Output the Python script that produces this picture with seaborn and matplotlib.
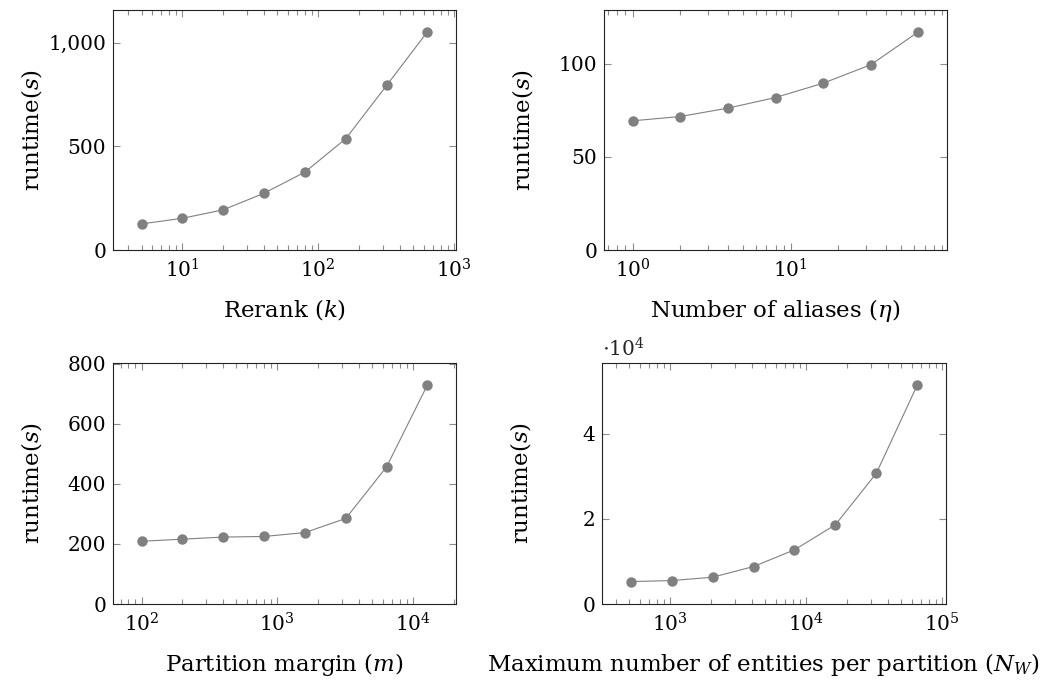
import numpy as np
import pandas as pd
import matplotlib
matplotlib.use("Agg")
import matplotlib.pyplot as plt
import matplotlib.ticker as mticker
import seaborn as sns

# ==============================
# DATA
# ==============================
rerank_k = [5, 10, 20, 40, 80, 160, 320, 640]
rerank_runtime = [126, 153, 194, 274, 376, 537, 794, 1053]

aliases_eta = [1, 2, 4, 8, 16, 32, 64]
aliases_runtime = [69.4, 71.7, 76.2, 81.9, 89.6, 99.5, 117.2]

margin_m = [100, 200, 400, 800, 1600, 3200, 6400, 12800]
margin_runtime = [209, 216, 223, 225, 238, 285, 457, 730]

entities_nw = [512, 1024, 2048, 4096, 8192, 16384, 32768, 65536]
entities_runtime = [5270, 5500, 6290, 8800, 12730, 18620, 30730, 51470]

# ==============================
# STYLE
# ==============================
sns.set_style("ticks")
plt.rcParams["font.family"] = ["DejaVu Serif"]
plt.rcParams["mathtext.fontset"] = "dejavuserif"
TICK_FS = 14.5
LABEL_FS = 16.5

W, H = 1054, 680
fig = plt.figure(figsize=(W / 100, H / 100), dpi=100)


def px_axes(left, top, right, bottom):
    return fig.add_axes([left / W, 1 - bottom / H, (right - left) / W, (bottom - top) / H])


panels = [
    dict(x=rerank_k, y=rerank_runtime, xlabel=r"Rerank ($k$)",
         yticks=[0, 500, 1000], box=(113, 10, 456, 250), scale=1, xlab_x=0.5),
    dict(x=aliases_eta, y=aliases_runtime, xlabel=r"Number of aliases ($\eta$)",
         yticks=[0, 50, 100], box=(604, 10, 947, 250), scale=1, xlab_x=0.5),
    dict(x=margin_m, y=margin_runtime, xlabel=r"Partition margin ($m$)",
         yticks=[0, 200, 400, 600, 800], box=(113, 363, 456, 604), scale=1, xlab_x=0.5),
    dict(x=entities_nw, y=entities_runtime,
         xlabel=r"Maximum number of entities per partition ($N_W$)",
         yticks=[0, 20000, 40000], box=(602, 363, 946, 604), scale=1e4, xlab_x=0.47),
]

for p in panels:
    ax = px_axes(*p["box"])
    df = pd.DataFrame({"x": p["x"], "y": p["y"]})
    sns.lineplot(data=df, x="x", y="y", ax=ax, color="#808080", linewidth=0.8,
                 marker="o", markersize=7.5, markeredgewidth=0, markerfacecolor="#808080")
    ax.set_xscale("log")

    # pgfplots-like 10% enlargement of the limits
    lx = np.log10([min(p["x"]), max(p["x"])])
    d = 0.1 * (lx[1] - lx[0])
    ax.set_xlim(10 ** (lx[0] - d), 10 ** (lx[1] + d))
    ax.set_ylim(0, max(p["y"]) * 1.1)

    ax.set_yticks(p["yticks"])
    s = p["scale"]
    ax.yaxis.set_major_formatter(mticker.FuncFormatter(lambda v, pos, s=s: f"{int(round(v / s)):,}"))
    ax.xaxis.set_major_locator(mticker.LogLocator(base=10))
    ax.xaxis.set_minor_locator(mticker.LogLocator(base=10, subs=np.arange(2, 10)))
    ax.xaxis.set_minor_formatter(mticker.NullFormatter())

    ax.tick_params(which="both", direction="in", top=True, right=True,
                   color="#8c8c8c", width=0.8, labelsize=TICK_FS, labelcolor="black")
    ax.tick_params(which="major", length=5)
    ax.tick_params(which="minor", length=3.5)
    ax.tick_params(axis="x", pad=6)
    ax.tick_params(axis="y", pad=5)

    for sp in ax.spines.values():
        sp.set_color("#222222")
        sp.set_linewidth(0.8)

    ax.set_xlabel(p["xlabel"], fontsize=LABEL_FS, va="center", color="black")
    ax.xaxis.set_label_coords(p["xlab_x"], -0.25)
    ax.set_ylabel(r"runtime($s$)", fontsize=LABEL_FS, va="center", color="black")
    ax.yaxis.set_label_coords(-0.238, 0.5)

    if s != 1:
        ax.text(0.0, 1.012, r"$\cdot10^4$", transform=ax.transAxes, fontsize=TICK_FS,
                ha="left", va="bottom")

fig.savefig("out.png", dpi=100)
